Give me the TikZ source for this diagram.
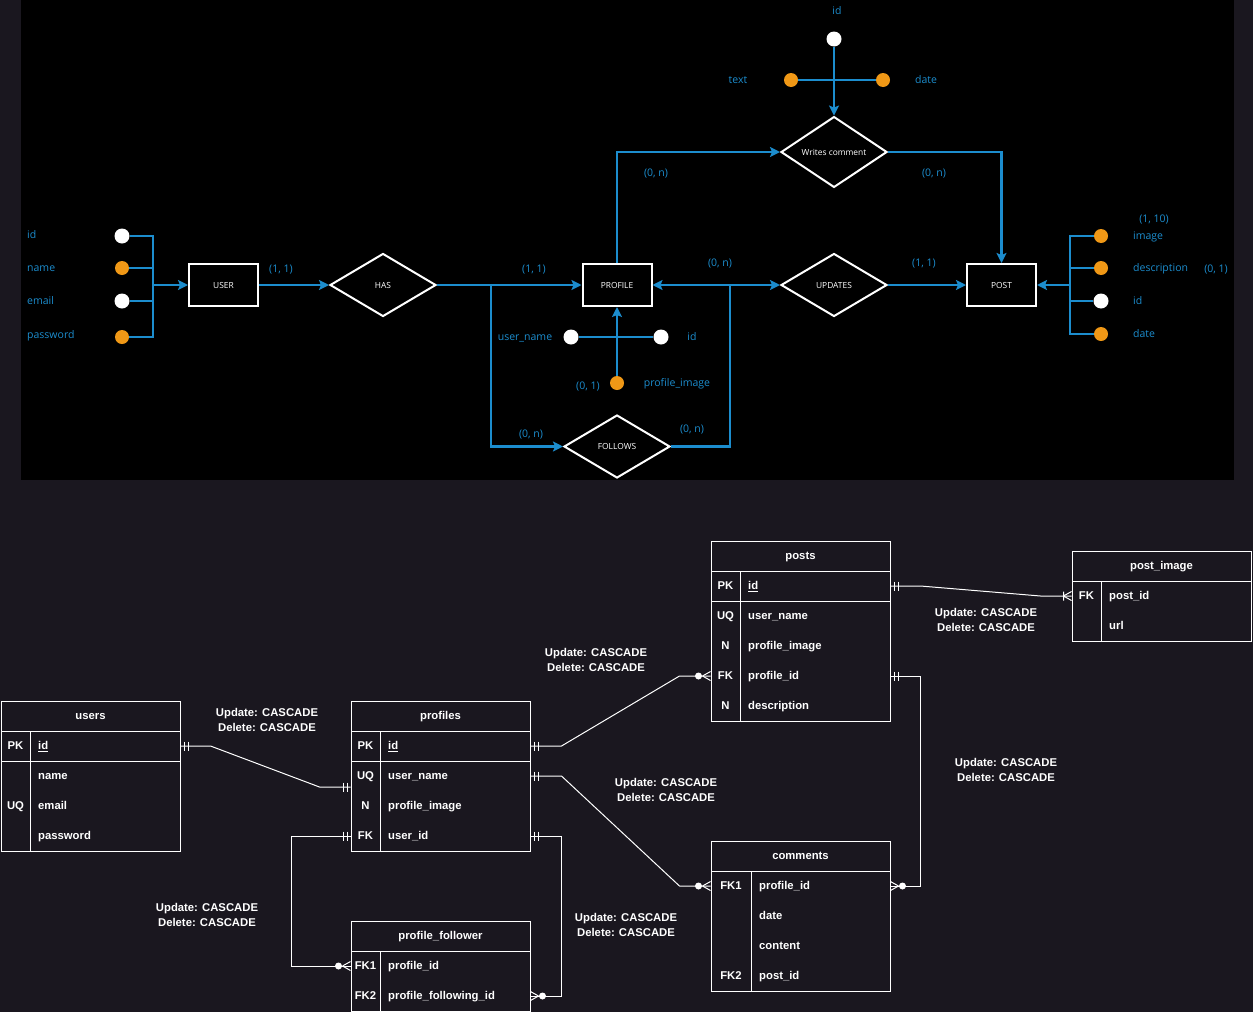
\documentclass[tikz,border=0pt]{standalone}
\usepackage{fontspec}
\setmainfont{Liberation Sans}
\newfontfamily\erfont{Open Sans}
\usetikzlibrary{shapes.geometric, arrows.meta, positioning, calc}
\definecolor{erblue}{RGB}{28,141,206}
\definecolor{erorange}{RGB}{240,152,22}
\definecolor{canvasbg}{RGB}{26,23,31}
\tikzset{
  entity/.style={rectangle, draw=white, line width=2pt, fill=black, minimum width=69pt,
    minimum height=42pt, inner sep=0pt, text=white, font=\erfont\fontsize{8.4}{10}\selectfont},
  relation/.style={diamond, draw=white, line width=2pt, fill=black, minimum width=106pt,
    minimum height=63pt, inner sep=0pt, text=white, font=\erfont\fontsize{8.4}{10}\selectfont},
  keyattr/.style={circle, fill=white, minimum size=15pt, inner sep=0pt},
  attr/.style={circle, fill=erorange, minimum size=14pt, inner sep=0pt},
  attrlbl/.style={inner sep=0pt, text height=8pt, text depth=2pt, text=erblue,
    font=\erfont\fontsize{10.5}{12}\selectfont},
  card/.style={attrlbl},
  link/.style={draw=erblue, line width=2.5pt},
  arr/.style={link, -{Stealth[length=10pt, width=10pt, inset=2pt]}},
  thead/.style={rectangle, draw=white, line width=1pt, minimum width=179pt, minimum height=30pt,
    inner sep=0pt, text height=9pt, text depth=2pt, text=white,
    font=\bfseries\fontsize{11.3}{13}\selectfont},
  tkey/.style={inner sep=0pt, text height=9pt, text depth=2pt, text=white,
    font=\bfseries\fontsize{11.3}{13}\selectfont},
  tfield/.style={anchor=west, inner sep=0pt, text height=9pt, text depth=2pt,
    text=white, font=\bfseries\fontsize{11.3}{13}\selectfont},
  tline/.style={draw=white, line width=1pt},
  rel/.style={draw=white, line width=1pt},
  note/.style={align=center, inner sep=0pt, text=white, font=\bfseries\fontsize{11.3}{15}\selectfont},
  mandone/.pic={\draw[tline] (-3.5,-4.5) -- (-3.5,4.5) (-7.5,-4.5) -- (-7.5,4.5);},
  zeromany/.pic={\draw[tline] (-8,0) -- (0,-4.5) (-8,0) -- (0,4.5); \fill[white] (-12,0) circle (3.5);},
  onemany/.pic={\draw[tline] (-8,0) -- (0,-4.5) (-8,0) -- (0,4.5) (-8,-4.5) -- (-8,4.5);},
}

\begin{document}
\begin{tikzpicture}[x=1pt, y=-1pt]
\useasboundingbox (0,0) rectangle (1253,1012);
\fill[canvasbg] (0,0) rectangle (1253,1012);
\fill[black] (21,0) rectangle (1234,480);

% conceptual model
\node[entity] (user) at (223.5,285) {USER};
\node[relation] (has) at (383,285) {HAS};
\node[entity] (profile) at (617,285) {PROFILE};
\node[relation] (follows) at (617,446.5) {FOLLOWS};
\node[relation] (writes) at (834,152) {Writes comment};
\node[relation] (updates) at (834,285) {UPDATES};
\node[entity] (post) at (1001.5,285) {POST};

\coordinate (userbar) at (153,285);
\coordinate (split) at (491,285);
\coordinate (join) at (730,285);
\coordinate (postbar) at (1070,285);

% attributes
\node[keyattr] (u-id) at (122,236) {};
\node[attr] (u-name) at (122,268) {};
\node[keyattr] (u-email) at (122,301) {};
\node[attr] (u-pass) at (122,337) {};
\node[keyattr] (w-id) at (834,39) {};
\node[attr] (w-text) at (791,80) {};
\node[attr] (w-date) at (883,80) {};
\node[keyattr] (p-uname) at (571,337) {};
\node[keyattr] (p-id) at (661,337) {};
\node[attr] (p-img) at (617,383) {};
\node[attr] (po-img) at (1101,236) {};
\node[attr] (po-desc) at (1101,268) {};
\node[keyattr] (po-id) at (1101,301) {};
\node[attr] (po-date) at (1101,334) {};

\node[attrlbl, anchor=west] (l-uid) at (27,235) {id};
\node[attrlbl, anchor=west] (l-uname) at (27,268) {name};
\node[attrlbl, anchor=west] (l-uemail) at (27,301) {email};
\node[attrlbl, anchor=west] (l-upass) at (27,335) {password};
\node[attrlbl] (l-wid) at (837,11) {id};
\node[attrlbl] (l-wtext) at (738,80) {text};
\node[attrlbl] (l-wdate) at (926,80) {date};
\node[attrlbl] (l-puname) at (525,337) {user\_name};
\node[attrlbl] (l-pid) at (692,337) {id};
\node[attrlbl] (l-pimg) at (677,383) {profile\_image};
\node[attrlbl, anchor=west] (l-poimg) at (1133,236) {image};
\node[attrlbl, anchor=west] (l-podesc) at (1133,268) {description};
\node[attrlbl, anchor=west] (l-poid) at (1133,301) {id};
\node[attrlbl, anchor=west] (l-podate) at (1133,334) {date};

% cardinalities
\node[card] (c-user) at (281,269) {(1, 1)};
\node[card] (c-profile) at (534,269) {(1, 1)};
\node[card] (c-follow1) at (531,434) {(0, n)};
\node[card] (c-follow2) at (692,429) {(0, n)};
\node[card] (c-update1) at (720,263) {(0, n)};
\node[card] (c-update2) at (924,263) {(1, 1)};
\node[card] (c-write1) at (656,173) {(0, n)};
\node[card] (c-write2) at (934,173) {(0, n)};
\node[card] (c-pimg) at (588,386) {(0, 1)};
\node[card] (c-poimg) at (1154,219) {(1, 10)};
\node[card] (c-podesc) at (1216,269) {(0, 1)};

\foreach \a in {u-id,u-name,u-email,u-pass}
  \draw[link] (\a) -| (userbar);
\draw[arr] (userbar) -- (user);
\draw[arr] (user) -- (has);
\draw[arr] (has) -- (profile);
\draw[arr] (split) |- (follows);
\draw[link] (follows) -| (join);
\draw[arr] (join) -- (profile);
\draw[arr] (join) -- (updates);
\draw[arr] (profile) |- (writes);
\draw[arr] (writes) -| (post);
\draw[arr] (updates) -- (post);
\draw[arr] (w-id) -- (writes);
\draw[link] (w-text) -- (w-date);
\draw[link] (p-uname) -- (p-id);
\draw[arr] (p-img) -- (profile);
\foreach \a in {po-img,po-desc,po-id,po-date}
  \draw[link] (\a) -| (postbar);
\draw[arr] (postbar) -- (post);

% tables
% users
\node[thead] (users) at (90.5,716) {users};
\draw[tline] (1,731) rectangle (180,851) (1,761) -- (180,761) (30,731) -- (30,851);
\node[tkey] (users-k1) at (15.5,746) {PK};
\node[tfield] (users-id) at (38,746) {\underline{id}};
\node[tfield] (users-name) at (38,776) {name};
\node[tkey] (users-k2) at (15.5,806) {UQ};
\node[tfield] (users-email) at (38,806) {email};
\node[tfield] (users-pass) at (38,836) {password};

% profiles
\node[thead] (profiles) at (440.5,716) {profiles};
\draw[tline] (351,731) rectangle (530,851) (351,761) -- (530,761) (380,731) -- (380,851);
\node[tkey] (profiles-k1) at (365.5,746) {PK};
\node[tfield] (profiles-id) at (388,746) {\underline{id}};
\node[tkey] (profiles-k2) at (365.5,776) {UQ};
\node[tfield] (profiles-uname) at (388,776) {user\_name};
\node[tkey] (profiles-k3) at (365.5,806) {N};
\node[tfield] (profiles-img) at (388,806) {profile\_image};
\node[tkey] (profiles-k4) at (365.5,836) {FK};
\node[tfield] (profiles-uid) at (388,836) {user\_id};

% posts
\node[thead] (posts) at (800.5,556) {posts};
\draw[tline] (711,571) rectangle (890,721) (711,601) -- (890,601) (740,571) -- (740,721);
\node[tkey] (posts-k1) at (725.5,586) {PK};
\node[tfield] (posts-id) at (748,586) {\underline{id}};
\node[tkey] (posts-k2) at (725.5,616) {UQ};
\node[tfield] (posts-uname) at (748,616) {user\_name};
\node[tkey] (posts-k3) at (725.5,646) {N};
\node[tfield] (posts-img) at (748,646) {profile\_image};
\node[tkey] (posts-k4) at (725.5,676) {FK};
\node[tfield] (posts-pid) at (748,676) {profile\_id};
\node[tkey] (posts-k5) at (725.5,706) {N};
\node[tfield] (posts-desc) at (748,706) {description};

% post_image
\node[thead] (pimage) at (1161.5,566) {post\_image};
\draw[tline] (1072,581) rectangle (1251,641) (1101,581) -- (1101,641);
\node[tkey] (pimage-k1) at (1086.5,596) {FK};
\node[tfield] (pimage-pid) at (1109,596) {post\_id};
\node[tfield] (pimage-url) at (1109,626) {url};

% comments
\node[thead] (comments) at (800.5,856) {comments};
\draw[tline] (711,871) rectangle (890,991) (751,871) -- (751,991);
\node[tkey] (comments-k1) at (731,886) {FK1};
\node[tfield] (comments-pid) at (759,886) {profile\_id};
\node[tfield] (comments-date) at (759,916) {date};
\node[tfield] (comments-content) at (759,946) {content};
\node[tkey] (comments-k2) at (731,976) {FK2};
\node[tfield] (comments-postid) at (759,976) {post\_id};

% profile_follower
\node[thead] (follower) at (440.5,936) {profile\_follower};
\draw[tline] (351,951) rectangle (530,1011) (380,951) -- (380,1011);
\node[tkey] (follower-k1) at (365.5,966) {FK1};
\node[tfield] (follower-pid) at (388,966) {profile\_id};
\node[tkey] (follower-k2) at (365.5,996) {FK2};
\node[tfield] (follower-fid) at (388,996) {profile\_following\_id};

% relations
\coordinate (prof-in) at ($(profiles.west |- profiles-uname)+(0,11)$);
\draw[rel] (users.east |- users-id) -- ++(30,0) -- ($(prof-in)+(-31,0)$) -- (prof-in);
\pic[xscale=-1] at (users.east |- users-id) {mandone};
\pic at (prof-in) {mandone};

\draw[rel] (profiles.west |- profiles-uid) -- ++(-59,0) |- (follower.west |- follower-pid);
\pic at (profiles.west |- profiles-uid) {mandone};
\pic at (follower.west |- follower-pid) {zeromany};

\draw[rel] (profiles.east |- profiles-uid) -- ++(31,0) |- (follower.east |- follower-fid);
\pic[xscale=-1] at (profiles.east |- profiles-uid) {mandone};
\pic[xscale=-1] at (follower.east |- follower-fid) {zeromany};

\draw[rel] (profiles.east |- profiles-id) -- ++(31,0)
  -- ($(posts.west |- posts-pid)+(-31,0)$) -- (posts.west |- posts-pid);
\pic[xscale=-1] at (profiles.east |- profiles-id) {mandone};
\pic at (posts.west |- posts-pid) {zeromany};

\draw[rel] (profiles.east |- profiles-uname) -- ++(31,0)
  -- ($(comments.west |- comments-pid)+(-31,0)$) -- (comments.west |- comments-pid);
\pic[xscale=-1] at (profiles.east |- profiles-uname) {mandone};
\pic at (comments.west |- comments-pid) {zeromany};

\draw[rel] (posts.east |- posts-pid) -- ++(30,0) |- (comments.east |- comments-pid);
\pic[xscale=-1] at (posts.east |- posts-pid) {mandone};
\pic[xscale=-1] at (comments.east |- comments-pid) {zeromany};

\draw[rel] (posts.east |- posts-id) -- ++(30,0)
  -- ($(pimage.west |- pimage-pid)+(-31,0)$) -- (pimage.west |- pimage-pid);
\pic[xscale=-1] at (posts.east |- posts-id) {mandone};
\pic at (pimage.west |- pimage-pid) {onemany};

% rules
\node[note] (n-users) at (267,720) {Update: CASCADE\\Delete: CASCADE};
\node[note] (n-follow1) at (207,915) {Update: CASCADE\\Delete: CASCADE};
\node[note] (n-follow2) at (626,925) {Update: CASCADE\\Delete: CASCADE};
\node[note] (n-posts) at (596,660) {Update: CASCADE\\Delete: CASCADE};
\node[note] (n-comments1) at (666,790) {Update: CASCADE\\Delete: CASCADE};
\node[note] (n-comments2) at (1006,770) {Update: CASCADE\\Delete: CASCADE};
\node[note] (n-pimage) at (986,620) {Update: CASCADE\\Delete: CASCADE};
\end{tikzpicture}
\end{document}
